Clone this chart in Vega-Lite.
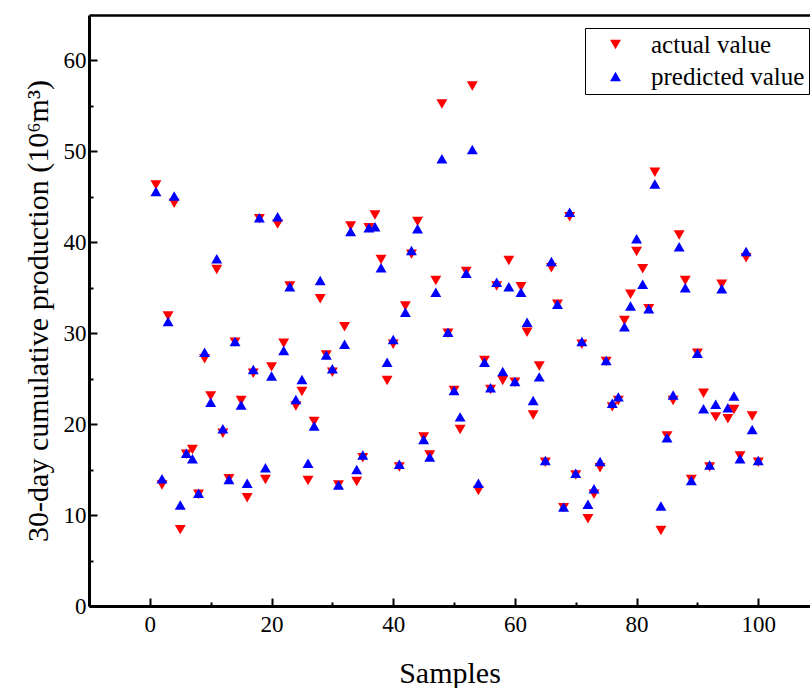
{
  "$schema": "https://vega.github.io/schema/vega-lite/v6.json",
  "width": 721,
  "height": 591,
  "autosize": {"type": "none"},
  "padding": {"left": 89, "top": 15, "right": 0, "bottom": 82},
  "background": "white",
  "config": {
    "view": {"stroke": null},
    "font": "Liberation Serif",
    "axis": {"grid": false, "domainColor": "black", "domainWidth": 3, "tickColor": "black", "tickWidth": 2, "labelColor": "black", "titleColor": "black", "labelFont": "Liberation Serif", "titleFont": "Liberation Serif", "labelFontSize": 23, "titleFontSize": 30, "titleFontWeight": "normal"}
  },
  "datasets": {
    "pts": [
      {"s":1,"a":46.3,"p":45.6},{"s":2,"a":13.3,"p":14.0},{"s":3,"a":31.9,"p":31.3},{"s":4,"a":44.3,"p":45.1},{"s":5,"a":8.4,"p":11.1},
      {"s":6,"a":16.7,"p":16.8},{"s":7,"a":17.2,"p":16.2},{"s":8,"a":12.3,"p":12.4},{"s":9,"a":27.2,"p":27.9},{"s":10,"a":23.1,"p":22.4},
      {"s":11,"a":37.0,"p":38.2},{"s":12,"a":19.0,"p":19.5},{"s":13,"a":14.0,"p":13.9},{"s":14,"a":29.0,"p":29.1},{"s":15,"a":22.6,"p":22.1},
      {"s":16,"a":11.9,"p":13.5},{"s":17,"a":25.6,"p":26.0},{"s":18,"a":42.6,"p":42.7},{"s":19,"a":13.9,"p":15.2},{"s":20,"a":26.3,"p":25.3},
      {"s":21,"a":42.0,"p":42.8},{"s":22,"a":28.9,"p":28.1},{"s":23,"a":35.2,"p":35.1},{"s":24,"a":22.0,"p":22.7},{"s":25,"a":23.6,"p":24.9},
      {"s":26,"a":13.8,"p":15.7},{"s":27,"a":20.3,"p":19.8},{"s":28,"a":33.8,"p":35.8},{"s":29,"a":27.6,"p":27.6},{"s":30,"a":25.7,"p":26.1},
      {"s":31,"a":13.3,"p":13.3},{"s":32,"a":30.7,"p":28.8},{"s":33,"a":41.8,"p":41.2},{"s":34,"a":13.7,"p":15.0},{"s":35,"a":16.3,"p":16.6},
      {"s":36,"a":41.6,"p":41.6},{"s":37,"a":43.0,"p":41.7},{"s":38,"a":38.1,"p":37.2},{"s":39,"a":24.8,"p":26.8},{"s":40,"a":28.8,"p":29.3},
      {"s":41,"a":15.3,"p":15.6},{"s":42,"a":33.0,"p":32.3},{"s":43,"a":38.7,"p":39.1},{"s":44,"a":42.3,"p":41.5},{"s":45,"a":18.6,"p":18.3},
      {"s":46,"a":16.6,"p":16.4},{"s":47,"a":35.8,"p":34.5},{"s":48,"a":55.2,"p":49.2},{"s":49,"a":30.0,"p":30.1},{"s":50,"a":23.7,"p":23.7},
      {"s":51,"a":19.4,"p":20.8},{"s":52,"a":36.8,"p":36.6},{"s":53,"a":57.2,"p":50.2},{"s":54,"a":12.7,"p":13.5},{"s":55,"a":27.0,"p":26.8},
      {"s":56,"a":23.8,"p":24.0},{"s":57,"a":35.2,"p":35.6},{"s":58,"a":24.8,"p":25.8},{"s":59,"a":38.0,"p":35.1},{"s":60,"a":24.6,"p":24.7},
      {"s":61,"a":35.1,"p":34.5},{"s":62,"a":30.1,"p":31.2},{"s":63,"a":21.0,"p":22.6},{"s":64,"a":26.4,"p":25.2},{"s":65,"a":15.8,"p":16.0},
      {"s":66,"a":37.2,"p":37.9},{"s":67,"a":33.2,"p":33.2},{"s":68,"a":10.8,"p":10.9},{"s":69,"a":42.8,"p":43.3},{"s":70,"a":14.4,"p":14.6},
      {"s":71,"a":28.8,"p":29.1},{"s":72,"a":9.6,"p":11.2},{"s":73,"a":12.3,"p":12.9},{"s":74,"a":15.2,"p":15.9},{"s":75,"a":26.9,"p":27.0},
      {"s":76,"a":21.9,"p":22.3},{"s":77,"a":22.6,"p":23.0},{"s":78,"a":31.4,"p":30.7},{"s":79,"a":34.3,"p":33.0},{"s":80,"a":39.0,"p":40.4},
      {"s":81,"a":37.1,"p":35.4},{"s":82,"a":32.7,"p":32.7},{"s":83,"a":47.7,"p":46.4},{"s":84,"a":8.3,"p":11.0},{"s":85,"a":18.7,"p":18.5},
      {"s":86,"a":22.6,"p":23.2},{"s":87,"a":40.8,"p":39.5},{"s":88,"a":35.8,"p":35.0},{"s":89,"a":13.9,"p":13.8},{"s":90,"a":27.8,"p":27.8},
      {"s":91,"a":23.4,"p":21.7},{"s":92,"a":15.3,"p":15.5},{"s":93,"a":20.8,"p":22.2},{"s":94,"a":35.4,"p":34.9},{"s":95,"a":20.6,"p":21.8},
      {"s":96,"a":21.6,"p":23.1},{"s":97,"a":16.5,"p":16.2},{"s":98,"a":38.3,"p":39.0},{"s":99,"a":20.9,"p":19.4},{"s":100,"a":15.8,"p":16.0}
    ]
  },
  "data": {"name": "pts"},
  "transform": [
    {"fold": ["a", "p"], "as": ["k", "v"]},
    {"calculate": "datum.k === 'a' ? 'actual value' : 'predicted value'", "as": "series"}
  ],
  "layer": [
    {
      "mark": {"type": "point", "filled": true, "size": 120, "opacity": 1},
      "encoding": {
        "x": {"field": "s", "type": "quantitative", "scale": {"domain": [-10, 108.5], "nice": false, "zero": false},
          "axis": {"title": "Samples", "values": [-10,0,10,20,30,40,50,60,70,80,90,100], "labelExpr": "datum.value % 20 === 0 ? datum.label : ''", "tickSize": {"condition": {"test": "datum.value % 20 === 0", "value": -8}, "value": -4}, "labelPadding": 15, "titlePadding": 22}},
        "y": {"field": "v", "type": "quantitative", "scale": {"domain": [0, 65], "nice": false},
          "axis": {"title": "30-day cumulative production (10⁶m³)", "values": [0,5,10,15,20,25,30,35,40,45,50,55,60], "labelExpr": "datum.value % 10 === 0 ? datum.label : ''", "tickSize": {"condition": {"test": "datum.value % 10 === 0", "value": -8}, "value": -4}, "labelPadding": 11, "titlePadding": 10}},
        "color": {"field": "series", "type": "nominal", "scale": {"domain": ["actual value", "predicted value"], "range": ["#ff0000", "#0000ff"]},
          "legend": {"title": null, "orient": "none", "legendX": 496, "legendY": 13, "strokeColor": "black", "padding": 4, "labelFontSize": 25, "labelFont": "Liberation Serif", "labelColor": "black", "symbolSize": 120, "rowPadding": 6, "labelOffset": 23, "symbolOffset": 14, "fillColor": "white"}},
        "shape": {"field": "series", "type": "nominal", "scale": {"domain": ["actual value", "predicted value"], "range": ["triangle-down", "triangle-up"]}, "legend": null}
      }
    },
    {
      "mark": {"type": "point", "opacity": 0},
      "encoding": {
        "x": {"field": "s", "type": "quantitative", "axis": {"orient": "top", "labels": false, "ticks": false, "title": null, "domainWidth": 2.5}}
      }
    }
  ],
  "resolve": {"axis": {"x": "independent"}}
}
